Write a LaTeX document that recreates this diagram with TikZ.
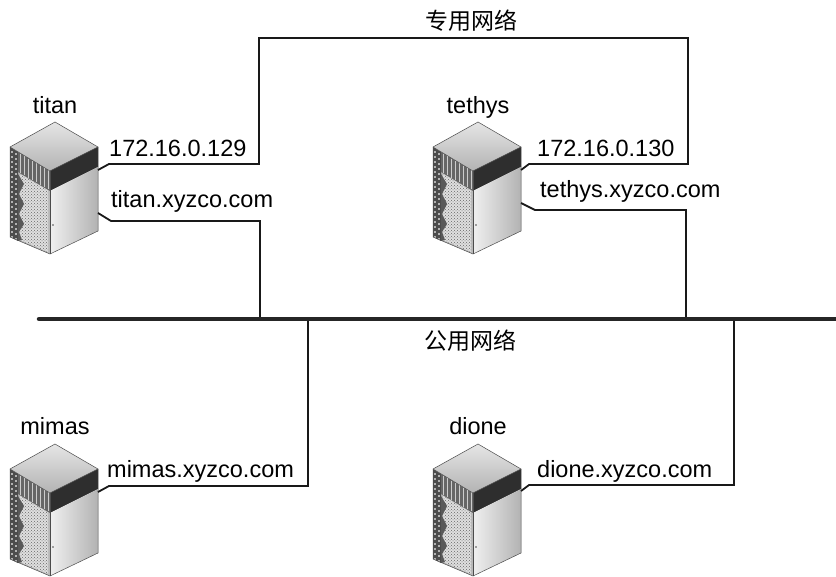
\documentclass[tikz,border=0pt]{standalone}
\usepackage{fontspec}
\setmainfont{Liberation Sans}
\newfontfamily\cjk{Noto Sans CJK SC}
\usetikzlibrary{patterns}
\begin{document}
\begin{tikzpicture}[x=1pt,y=-1pt,
  net/.style={line width=1.8pt, draw=black!90, line join=miter},
  bus/.style={line width=4.5pt, draw=black!85, line cap=round},
  lbl/.style={inner sep=0pt, font=\fontsize{23.5}{27}\selectfont},
  edge/.style={draw=black!70, line width=0.5pt},
  server/.pic={
    % left face base
    \fill[gray!55] (-45,25) -- (-5,49) -- (-5,132) -- (-45,115) -- cycle;
    % left dark strip
    \fill[black!70] (-45,25) -- (-37,30) -- (-37,119) -- (-45,115) -- cycle;
    \foreach \k in {0,...,17} {\fill[gray!60] (-44,{29+5*\k}) rectangle (-42,{31+5*\k}); \fill[gray!60] (-40,{31+5*\k}) rectangle (-38,{33+5*\k});}
    % upper band on left face
    \fill[black!60] (-37,30) -- (-5,49) -- (-5,69) -- (-37,50) -- cycle;
    \foreach \k in {0,...,7} {\draw[gray!40, line width=0.6pt] ({-35+4*\k},{32+2.35*\k}) -- ({-35+4*\k},{51+2.35*\k});}
    % main panel
    \fill[gray!25] (-35,52) -- (-7,68.5) -- (-7,130) -- (-35,118) -- cycle;
    \fill[pattern=crosshatch dots, pattern color=gray!80!black] (-35,52) -- (-7,68.5) -- (-7,130) -- (-35,118) -- cycle;
    % zig-zag edge
    \fill[black!65] (-37,52) -- (-31,62) -- (-36,72) -- (-31,82) -- (-36,92) -- (-31,102) -- (-36,110) -- (-33,118) -- (-37,119) -- cycle;
    % top face
    \shade[top color=gray!20, bottom color=gray!60] (0,0) -- (-45,25) -- (-5,49) -- (43,25) -- cycle;
    % right face band
    \fill[black!82] (-5,49) -- (43,25) -- (43,45) -- (-5,69) -- cycle;
    % right face lower
    \shade[left color=gray!12, right color=gray!60] (-5,69) -- (43,45) -- (43,109) -- (-5,132) -- cycle;
    \fill[black!70] (-2,103) circle (0.9);
    % outlines
    \draw[edge] (0,0) -- (-45,25) -- (-45,115) -- (-5,132) -- (43,109) -- (43,25) -- cycle;
    \draw[edge] (-45,25) -- (-5,49) -- (43,25);
    \draw[edge] (-5,49) -- (-5,132);
  }]
\useasboundingbox (0,0) rectangle (836,577);

% servers
\pic (titan) at (55,122) {server};
\pic (tethys) at (478,122) {server};
\pic (mimas) at (55,444) {server};
\pic (dione) at (478,444) {server};

% labels
\node[lbl, anchor=base] (lTitan) at (55,114) {titan};
\node[lbl, anchor=base] (lTethys) at (478,114) {tethys};
\node[lbl, anchor=base] (lMimas) at (55,435) {mimas};
\node[lbl, anchor=base] (lDione) at (478,435) {dione};
\node[lbl, anchor=base west] (ipTitan) at (109,157) {172.16.0.129};
\node[lbl, anchor=base west] (hnTitan) at (111,208) {titan.xyzco.com};
\node[lbl, anchor=base west] (ipTethys) at (537,157) {172.16.0.130};
\node[lbl, anchor=base west] (hnTethys) at (540,198) {tethys.xyzco.com};
\node[lbl, anchor=base west] (hnMimas) at (107,477) {mimas.xyzco.com};
\node[lbl, anchor=base west] (hnDione) at (537,477) {dione.xyzco.com};
\node[lbl, font=\cjk\fontsize{23}{27}\selectfont] (priv) at (471,21) {专用网络};
\node[lbl, font=\cjk\fontsize{23}{27}\selectfont] (pub) at (470,341) {公用网络};

% coordinates
\coordinate (tiP) at (98,170);
\coordinate (tiP1) at (109,164);
\coordinate (pL) at (259,164);
\coordinate (pLT) at (259,38);
\coordinate (pRT) at (688,38);
\coordinate (pR) at (688,164);
\coordinate (teP1) at (529,164);
\coordinate (teP) at (521,170);

\coordinate (tiQ) at (98,213);
\coordinate (tiQ1) at (111,221);
\coordinate (tiQ2) at (260,221);
\coordinate (tiQ3) at (260,319);
\coordinate (teQ) at (521,203);
\coordinate (teQ1) at (535,210);
\coordinate (teQ2) at (686,210);
\coordinate (teQ3) at (686,319);

\coordinate (miQ) at (98,492);
\coordinate (miQ1) at (109,486);
\coordinate (miQ2) at (308,486);
\coordinate (miQ3) at (308,319);
\coordinate (diQ) at (521,491);
\coordinate (diQ1) at (529,485);
\coordinate (diQ2) at (734,485);
\coordinate (diQ3) at (734,319);

\coordinate (busL) at (39,319);
\coordinate (busR) at (840,319);

% networks
\draw[net] (tiP) -- (tiP1) -- (pL) -- (pLT) -- (pRT) -- (pR) -- (teP1) -- (teP);
\draw[net] (tiQ) -- (tiQ1) -- (tiQ2) -- (tiQ3);
\draw[net] (teQ) -- (teQ1) -- (teQ2) -- (teQ3);
\draw[net] (miQ) -- (miQ1) -- (miQ2) -- (miQ3);
\draw[net] (diQ) -- (diQ1) -- (diQ2) -- (diQ3);
\draw[bus] (busL) -- (busR);
\end{tikzpicture}
\end{document}
